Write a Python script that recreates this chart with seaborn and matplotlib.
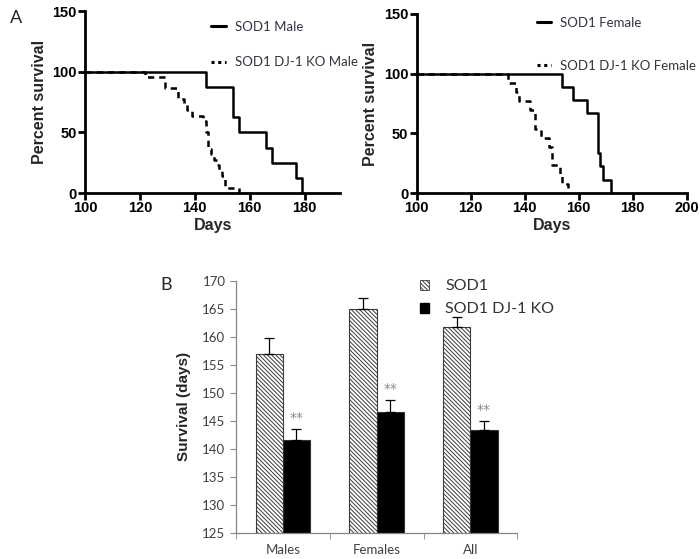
import matplotlib
matplotlib.use('Agg')
import matplotlib.pyplot as plt
import seaborn as sns
import pandas as pd
from matplotlib.lines import Line2D
from matplotlib.patches import Patch

# death days
male_sod1_days = [144, 154, 154, 156, 166, 168, 177, 179]
male_ko_days = [122, 129, 129, 134, 134, 136, 137, 139, 143, 144, 144, 145, 145, 145,
                146, 147, 148, 149, 150, 151, 151, 156]
female_sod1_days = [154, 158, 163, 167, 167, 167, 168, 169, 172]
female_ko_days = [134, 137, 138, 142, 144, 144, 146, 149, 150, 150, 153, 154, 156]

# panel B
groups = ['Males', 'Females', 'All']
genotypes = ['SOD1', 'SOD1 DJ-1 KO']
sod1_mean = [157.0, 165.0, 161.8]
sod1_err = [2.8, 1.9, 1.8]
ko_mean = [141.6, 146.6, 143.4]
ko_err = [1.9, 2.1, 1.6]

sns.set_style('ticks')
plt.rcParams['font.family'] = ['Liberation Sans', 'DejaVu Sans']
plt.rcParams['hatch.linewidth'] = 0.7

HATCH = '\\' * 8


def km_steps(deaths, start=100):
    n = len(deaths)
    alive = n
    xs, ys = [start], [100.0]
    for d in sorted(set(deaths)):
        alive -= deaths.count(d)
        xs.append(d)
        ys.append(100.0 * alive / n)
    return pd.DataFrame({'day': xs, 'surv': ys})


def style_km(ax, xmax, xticks):
    ax.set_xlim(100, xmax)
    ax.set_ylim(0, 150)
    ax.set_xticks(xticks)
    ax.set_yticks([0, 50, 100, 150])
    sns.despine(ax=ax)
    for s in ['left', 'bottom']:
        ax.spines[s].set_linewidth(2)
        ax.spines[s].set_color('black')
    ax.tick_params(width=2, length=5, labelsize=10.5, colors='black', pad=1)
    for lab in ax.get_xticklabels() + ax.get_yticklabels():
        lab.set_fontweight('bold')
    ax.set_xlabel('Days', fontsize=11.5, fontweight='bold', labelpad=2)
    ax.set_ylabel('Percent survival', fontsize=11.5, fontweight='bold', labelpad=4)


fig = plt.figure(figsize=(7, 5.59), dpi=100)
ax1 = fig.add_axes([0.1214, 0.6547, 0.3646, 0.3253])
ax2 = fig.add_axes([0.595, 0.6547, 0.386, 0.3203])
ax3 = fig.add_axes([0.337, 0.0465, 0.402, 0.4515])

# (axes, sod1, ko, sex, xmax, xticks, legend x, legend y, legend spacing)
panels = [(ax1, male_sod1_days, male_ko_days, 'Male', 193, [100, 120, 140, 160, 180],
           0.485, 0.96, 1.75),
          (ax2, female_sod1_days, female_ko_days, 'Female', 200,
           [100, 120, 140, 160, 180, 200], 0.435, 1.0, 2.35)]
for ax, sod, ko, sex, xmax, xt, lx, ly, lsp in panels:
    sns.lineplot(data=km_steps(sod), x='day', y='surv', drawstyle='steps-post',
                 estimator=None, sort=False, color='black', lw=1.8, ax=ax)
    sns.lineplot(data=km_steps(ko), x='day', y='surv', drawstyle='steps-post',
                 estimator=None, sort=False, color='black', lw=1.8, dashes=False,
                 linestyle=(0, (2.5, 2)), ax=ax)
    style_km(ax, xmax, xt)
    handles = [Line2D([], [], color='black', lw=2.2),
               Line2D([], [], color='black', lw=2.2, linestyle=(0, (1, 1.2)))]
    ax.legend(handles, ['SOD1 ' + sex, 'SOD1 DJ-1 KO ' + sex], frameon=False,
              loc='upper left', bbox_to_anchor=(lx, ly),
              handlelength=1.1, handletextpad=0.7, labelspacing=lsp, borderaxespad=0,
              borderpad=0.2, prop={'family': 'Lato', 'size': 9.5}, labelcolor='#333344')

# panel B bars
df = pd.DataFrame({'group': groups * 2,
                   'genotype': [genotypes[0]] * 3 + [genotypes[1]] * 3,
                   'value': sod1_mean + ko_mean})
sns.barplot(data=df, x='group', y='value', hue='genotype', order=groups,
            hue_order=genotypes, palette=['white', 'black'], width=0.58,
            errorbar=None, linewidth=0.8, edgecolor='#333333', legend=False, ax=ax3)
for bar in ax3.containers[0]:
    bar.set_hatch(HATCH)
    bar.set_edgecolor('#3a3a3a')

for i, (cont, errs) in enumerate(zip(ax3.containers, [sod1_err, ko_err])):
    xs = [b.get_x() + b.get_width() / 2 for b in cont]
    ys = [b.get_height() for b in cont]
    ax3.errorbar(xs, ys, yerr=[[0] * len(errs), errs], fmt='none', ecolor='black',
                 elinewidth=0.9, capsize=3.5, capthick=0.9)
    if i == 1:
        for x, y, e in zip(xs, ys, errs):
            ax3.text(x, y + e + 2.0, '**', ha='center', va='center', fontsize=10,
                     color='#8a8a8a', family='DejaVu Sans')

ax3.set_ylim(125, 170)
ax3.set_yticks(range(125, 171, 5))
ax3.set_xlim(-0.5, 2.5)
ax3.set_xticks([-0.5, 0.5, 1.5, 2.5], minor=True)
ax3.tick_params(axis='x', which='major', length=0, pad=8)
ax3.tick_params(axis='x', which='minor', length=4, color='#868686')
ax3.tick_params(axis='y', length=4, color='#868686')
ax3.tick_params(labelsize=9.5, labelcolor='#404040')
for lab in ax3.get_xticklabels() + ax3.get_yticklabels():
    lab.set_family('Lato')
sns.despine(ax=ax3)
for s in ['left', 'bottom']:
    ax3.spines[s].set_color('#868686')
    ax3.spines[s].set_linewidth(0.9)
ax3.set_xlabel('')
ax3.set_ylabel('Survival (days)', fontsize=11, fontweight='bold', labelpad=8)

leg_handles = [Patch(facecolor='white', edgecolor='#3a3a3a', hatch=HATCH, lw=0.6),
               Patch(facecolor='black', edgecolor='black')]
ax3.legend(leg_handles, genotypes, frameon=False, loc='upper left',
           bbox_to_anchor=(0.63, 1.03), handlelength=0.6, handleheight=0.6,
           handletextpad=1.0, labelspacing=0.55, borderaxespad=0,
           prop={'family': 'Lato', 'size': 11.5}, labelcolor='#333333')

fig.text(0.014, 0.968, 'A', fontsize=13, family='Lato', va='center')
fig.text(0.229, 0.49, 'B', fontsize=13, family='Lato', va='center')

fig.savefig('out.png', dpi=100)
